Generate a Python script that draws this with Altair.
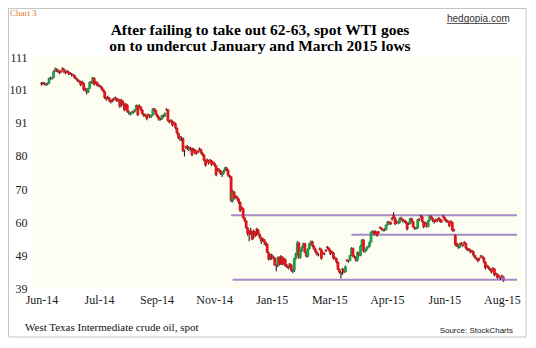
import json
import altair as alt
import pandas as pd

# ---- daily candles, spot WTI, Jun 2 2014 .. Aug 19 2015 (one row per trading day) ----
opens = [
    # Jun-14
    102.9, 103.0, 102.8, 102.7, 102.4, 102.8, 104.5, 104.3, 104.5, 106.6, 107.2, 107.0, 106.4, 106.7, 107.6, 107.2, 106.3, 106.7, 106.4, 106.0, 105.8,
    # Jul-14
    105.5, 105.3, 104.5, 104.0, 103.6, 103.4, 103.3, 102.9, 101.3, 100.9, 100.0, 101.2, 103.3, 103.1, 104.5, 103.4, 103.1, 102.4, 102.1, 101.7, 101.0, 100.3,
    # Aug-14
    98.3, 98.6, 98.3, 97.4, 97.7, 98.0, 98.4, 98.1, 97.9, 97.6, 97.7, 97.3, 96.4, 96.4, 96.1, 94.0, 93.0, 93.4, 94.1, 93.9, 94.6,
    # Sep-14
    95.9, 95.8, 95.5, 94.5, 93.3, 93.1, 92.8, 93.2, 92.8, 92.3, 92.9, 94.9, 94.4, 93.1, 92.4, 91.9, 91.6, 92.9, 92.5, 94.8, 94.6,
    # Oct-14
    91.2, 91.4, 91.0, 90.7, 90.3, 88.9, 87.3, 86.2, 85.8, 85.7, 82.0, 83.1, 83.2, 82.9, 82.7, 82.5, 82.4, 82.1, 81.4, 81.8, 82.5, 82.2, 81.1,
    # Nov-14
    80.5, 78.8, 79.1, 78.7, 79.0, 78.7, 78.3, 77.9, 77.2, 76.2, 76.0, 75.6, 74.8, 74.6, 75.6, 76.5, 75.8, 74.1, 73.7,
    # Dec-14
    66.2, 69.0, 67.8, 67.4, 66.8, 65.8, 64.2, 63.8, 60.9, 60.0, 57.8, 56.6, 57.0, 56.5, 56.9, 56.5, 57.5, 57.1, 55.8, 54.7, 54.5, 54.1,
    # Jan-15
    53.3, 52.7, 50.0, 49.3, 49.2, 48.8, 48.4, 46.1, 46.2, 48.5, 48.9, 48.7, 48.2, 47.9, 46.2, 45.6, 46.6, 46.2, 44.8, 44.5,
    # Feb-15
    48.2, 49.6, 53.1, 48.5, 50.5, 51.7, 52.9, 50.0, 48.8, 51.2, 52.8, 53.5, 52.1, 51.2, 50.3, 49.5, 51.4, 51.0, 50.1,
    # Mar-15
    49.8, 50.9, 51.9, 51.5, 50.8, 50.4, 50.0, 48.6, 48.2, 47.1, 44.8, 43.9, 45.0, 44.7, 44.0, 47.8, 47.7, 47.5, 49.2, 51.4, 48.9, 48.7,
    # Apr-15
    47.6, 50.1, 49.1, 52.1, 54.0, 50.4, 50.8, 51.6, 51.9, 53.3, 56.4, 56.7, 56.7, 56.4, 56.6, 58.0, 57.7, 57.2, 57.4, 57.1, 58.6,
    # May-15
    59.6, 59.5, 60.8, 61.8, 60.9, 59.8, 59.5, 59.3, 60.9, 60.5, 60.1, 59.9, 59.4, 59.4, 59.0, 60.7, 59.7, 58.0, 57.5, 57.7,
    # Jun-15
    60.6, 61.6, 61.3, 59.6, 59.5, 59.1, 58.1, 60.1, 61.4, 60.8, 60.0, 60.4, 60.3, 60.9, 60.5, 60.1, 61.4, 61.0, 60.3, 60.0, 59.6, 59.9,
    # Jul-15
    59.5, 57.3, 55.5, 53.0, 52.3, 51.7, 53.1, 52.7, 53.4, 53.0, 51.4, 51.3, 50.9, 50.7, 50.4, 49.2, 48.5, 48.1, 48.3, 49.1, 48.9, 48.5,
    # Aug-15
    47.1, 46.1, 45.7, 45.2, 44.7, 45.3, 45.0, 43.6, 43.3, 42.9, 42.3, 42.9, 42.6,
]
highs = [
    103.2, 103.3, 103.1, 103.0, 103.0, 104.6, 104.9, 104.7, 106.8, 107.7, 107.5, 107.2, 106.7, 107.0, 107.7, 107.4, 106.6, 107.0, 106.6, 106.3, 106.0,
    105.8, 105.5, 104.8, 104.3, 103.9, 103.6, 103.6, 103.1, 101.5, 101.2, 101.4, 103.4, 103.6, 104.8, 104.7, 103.6, 103.3, 102.6, 102.3, 101.9, 101.2, 100.5,
    98.6, 98.9, 98.5, 97.7, 98.0, 98.3, 98.7, 98.3, 98.1, 97.8, 98.0, 97.5, 96.6, 96.7, 96.3, 94.3, 93.8, 94.1, 94.3, 94.8, 96.2,
    96.1, 96.2, 95.7, 94.7, 93.5, 93.3, 93.0, 93.4, 93.0, 93.1, 95.1, 95.1, 94.6, 93.3, 92.6, 92.1, 93.0, 93.1, 93.7, 95.0, 94.8,
    91.4, 91.6, 91.2, 90.9, 90.5, 89.1, 87.5, 86.4, 86.2, 85.9, 82.1, 83.4, 83.5, 83.1, 83.0, 82.7, 82.7, 82.3, 81.6, 82.0, 82.8, 82.4, 81.3,
    80.7, 79.0, 79.4, 78.9, 79.2, 78.9, 78.5, 78.1, 77.4, 76.4, 76.3, 75.8, 75.0, 75.8, 76.8, 76.7, 76.0, 74.3, 73.9,
    69.6, 69.2, 68.0, 67.7, 67.0, 66.0, 64.5, 64.0, 61.1, 60.2, 58.0, 57.0, 57.8, 56.8, 57.2, 56.8, 57.8, 57.4, 56.0, 55.0, 54.7, 54.3,
    53.6, 52.9, 50.3, 49.6, 49.7, 49.1, 48.6, 46.4, 48.8, 48.8, 49.2, 48.9, 48.5, 48.2, 46.5, 46.0, 46.8, 46.4, 45.0, 48.4,
    50.0, 53.6, 53.4, 51.0, 52.0, 53.1, 53.1, 50.3, 51.4, 53.0, 53.8, 53.7, 52.4, 51.4, 50.5, 49.8, 51.6, 51.2, 50.4,
    50.0, 51.1, 52.1, 51.7, 51.0, 50.6, 50.2, 48.8, 48.4, 47.3, 45.1, 44.2, 45.3, 45.0, 46.0, 48.0, 47.8, 49.4, 51.7, 51.6, 49.2, 48.9,
    50.4, 50.3, 52.4, 54.3, 54.2, 51.0, 51.9, 52.2, 53.5, 56.7, 57.0, 56.9, 56.9, 56.6, 56.8, 58.2, 57.9, 57.5, 57.6, 58.9, 59.9,
    59.8, 59.7, 61.1, 62.6, 61.1, 60.1, 59.8, 61.0, 61.2, 60.7, 60.3, 60.1, 59.6, 59.6, 60.9, 60.9, 59.9, 58.2, 58.1, 60.5,
    60.8, 61.8, 61.5, 59.8, 59.7, 59.3, 60.3, 61.7, 61.6, 61.0, 60.2, 60.6, 60.6, 61.1, 60.7, 60.3, 61.8, 61.2, 60.5, 60.2, 59.8, 60.1,
    59.7, 57.5, 55.7, 53.2, 52.5, 53.0, 53.3, 52.9, 53.6, 53.2, 51.6, 51.5, 51.1, 50.9, 50.6, 49.4, 48.7, 48.3, 48.5, 49.3, 49.1, 48.7,
    47.3, 46.3, 45.9, 45.4, 44.9, 45.5, 45.2, 43.8, 43.5, 43.1, 42.5, 43.1, 42.8,
]
lows = [
    102.1, 102.3, 102.2, 102.0, 102.2, 102.6, 104.0, 103.9, 104.4, 106.3, 106.4, 106.0, 105.6, 106.0, 106.8, 105.9, 105.6, 106.0, 105.4, 105.4, 104.9,
    104.9, 104.2, 103.8, 103.2, 102.9, 101.9, 102.5, 100.4, 100.3, 99.3, 99.8, 101.0, 102.6, 102.8, 102.1, 102.6, 101.8, 101.7, 101.3, 100.6, 99.9, 97.9,
    97.4, 97.8, 97.0, 96.5, 96.9, 97.2, 97.7, 97.0, 97.1, 95.2, 95.4, 96.0, 94.1, 94.4, 93.6, 93.1, 92.8, 93.2, 93.4, 93.7, 94.4,
    92.6, 95.1, 94.1, 92.9, 92.3, 92.4, 91.3, 92.5, 91.9, 92.1, 92.7, 94.0, 92.7, 92.0, 91.1, 91.2, 91.4, 92.1, 92.3, 94.2, 90.8,
    90.3, 90.6, 89.3, 89.9, 88.5, 86.9, 85.4, 84.8, 84.8, 81.4, 80.0, 82.3, 82.0, 81.6, 81.9, 80.1, 81.6, 80.6, 80.6, 81.0, 81.8, 80.7, 80.1,
    78.4, 76.8, 78.3, 77.5, 78.3, 77.0, 77.5, 76.8, 73.8, 75.4, 74.9, 74.2, 73.6, 74.4, 75.4, 75.4, 73.7, 73.3, 65.7,
    65.7, 66.5, 66.9, 66.3, 65.2, 62.7, 63.3, 60.6, 59.6, 57.4, 55.3, 53.6, 55.6, 53.9, 54.3, 54.9, 55.2, 55.5, 54.4, 52.7, 53.3, 52.4,
    52.0, 49.8, 47.6, 47.7, 47.8, 47.9, 45.9, 44.2, 45.5, 45.9, 46.2, 46.1, 46.3, 45.6, 45.2, 44.8, 45.2, 44.1, 43.6, 44.0,
    47.8, 49.2, 48.1, 48.2, 50.2, 51.4, 49.8, 48.5, 48.6, 51.0, 52.5, 51.8, 50.9, 49.9, 49.1, 48.8, 50.6, 47.8, 49.3,
    49.2, 50.2, 51.1, 50.4, 49.3, 49.6, 47.9, 47.8, 46.7, 44.5, 43.5, 42.0, 43.1, 43.6, 43.8, 47.1, 46.9, 47.3, 49.0, 48.5, 48.2, 47.2,
    47.3, 48.8, 48.9, 51.8, 50.1, 50.0, 50.5, 51.3, 51.7, 53.1, 56.1, 55.4, 55.9, 55.0, 55.9, 57.4, 56.9, 56.6, 56.7, 56.9, 58.4,
    58.8, 58.6, 60.0, 60.6, 58.6, 59.0, 58.9, 59.1, 60.1, 59.5, 59.3, 59.0, 56.9, 58.6, 58.8, 59.4, 57.7, 57.1, 57.2, 57.4,
    59.8, 60.9, 59.3, 57.6, 58.7, 57.8, 57.9, 59.9, 60.4, 59.6, 59.1, 59.6, 59.5, 60.1, 59.3, 59.3, 60.7, 59.9, 59.3, 59.3, 57.9, 59.1,
    56.6, 56.5, 52.0, 51.8, 51.2, 51.4, 52.3, 51.8, 52.6, 51.0, 50.5, 50.5, 49.8, 50.0, 48.8, 48.1, 47.7, 47.0, 47.6, 48.4, 48.1, 46.7,
    44.8, 45.3, 44.8, 44.3, 43.5, 44.6, 42.7, 42.9, 41.9, 42.1, 41.5, 42.2, 40.9,
]
closes = [
    102.5, 102.7, 102.6, 102.5, 102.7, 104.4, 104.4, 104.4, 106.5, 106.9, 106.9, 106.4, 106.0, 106.4, 107.3, 106.2, 106.0, 106.5, 105.8, 105.7, 105.4,
    105.3, 104.5, 104.1, 103.5, 103.4, 102.3, 102.9, 100.8, 100.9, 100.0, 101.2, 103.2, 103.1, 104.6, 102.4, 103.1, 102.1, 102.1, 101.7, 101.0, 100.3, 98.2,
    97.9, 98.3, 97.4, 96.9, 97.3, 97.7, 98.1, 97.4, 97.6, 95.6, 97.4, 96.4, 94.5, 96.1, 94.0, 93.7, 93.4, 93.9, 93.9, 94.6, 96.0,
    92.9, 95.5, 94.5, 93.3, 92.7, 92.8, 91.7, 92.8, 92.3, 92.9, 94.9, 94.4, 93.1, 92.4, 91.5, 91.6, 92.8, 92.5, 93.5, 94.6, 91.2,
    90.7, 91.0, 89.7, 90.3, 88.9, 87.3, 85.8, 85.8, 85.7, 81.8, 81.8, 82.7, 82.8, 82.7, 82.5, 80.5, 82.1, 81.0, 81.0, 81.4, 82.2, 81.1, 80.5,
    78.8, 77.2, 78.7, 77.9, 78.7, 77.4, 77.9, 77.2, 74.2, 75.8, 75.6, 74.6, 74.6, 75.6, 76.5, 75.8, 74.1, 73.7, 66.2,
    69.0, 66.9, 67.4, 66.8, 65.8, 63.1, 63.8, 60.9, 60.0, 57.8, 55.9, 55.9, 56.5, 54.1, 56.5, 55.3, 57.1, 55.8, 54.7, 53.6, 54.1, 53.3,
    52.7, 50.0, 47.9, 48.7, 48.8, 48.4, 46.1, 45.9, 48.5, 46.3, 48.7, 46.4, 47.9, 45.9, 45.6, 45.2, 46.2, 44.5, 44.5, 48.2,
    49.6, 53.1, 48.5, 50.5, 51.7, 52.9, 50.0, 48.8, 51.2, 52.8, 53.5, 52.1, 51.2, 50.3, 49.5, 49.3, 51.0, 48.2, 49.8,
    49.6, 50.5, 51.5, 50.8, 49.6, 50.0, 48.3, 48.2, 47.1, 44.8, 43.9, 43.5, 44.7, 44.0, 45.7, 47.5, 47.5, 49.2, 51.4, 48.9, 48.7, 47.6,
    50.1, 49.1, 52.1, 54.0, 50.4, 50.8, 51.6, 51.9, 53.3, 56.4, 56.7, 55.7, 56.4, 55.3, 56.2, 57.7, 57.2, 57.0, 57.1, 58.6, 59.6,
    59.2, 58.9, 60.4, 60.9, 58.9, 59.4, 59.3, 60.8, 60.5, 59.9, 59.7, 59.4, 57.3, 59.0, 60.7, 59.7, 58.0, 57.5, 57.7, 60.3,
    60.2, 61.3, 59.6, 58.0, 59.1, 58.1, 60.1, 61.4, 60.8, 60.0, 59.5, 60.0, 59.9, 60.5, 59.6, 59.7, 61.0, 60.3, 59.7, 59.6, 58.3, 59.5,
    57.0, 56.9, 52.5, 52.3, 51.7, 52.8, 52.7, 52.2, 53.0, 51.4, 50.9, 50.9, 50.2, 50.4, 49.2, 48.5, 48.1, 47.4, 48.0, 48.8, 48.5, 47.1,
    45.2, 45.7, 45.2, 44.7, 43.9, 45.0, 43.1, 43.3, 42.2, 42.5, 41.9, 42.6, 41.2,
]

# axis tick labels (evenly spaced in the original)
y_tick_values = [39, 49.2857, 59.5714, 69.8571, 80.1429, 90.4286, 100.7143, 111]
y_tick_labels = ["39", "49", "60", "70", "80", "91", "101", "111"]
x_tick_values = [0, 38.25, 76.5, 114.75, 153, 191.25, 229.5, 267.75, 306]
x_tick_labels = ["Jun-14", "Jul-14", "Sep-14", "Nov-14", "Jan-15", "Mar-15", "Apr-15", "Jun-15", "Aug-15"]

# horizontal support / resistance lines
level_values = [61.7, 55.6, 41.6]
level_start = [126, 206, 127]
level_end = [316, 316, 316]

n = len(closes)
df = pd.DataFrame({"i": list(range(n)), "o": opens, "h": highs, "l": lows, "c": closes})
kind = ["up" if c > o else "down" for o, c in zip(opens, closes)]
kind[-1] = "last"
df["kind"] = kind
levels = pd.DataFrame({"v": level_values, "s": level_start, "e": level_end})

SERIF = "Liberation Serif"
SANS = "Liberation Sans"

x_expr = "[" + ",".join("'%s'" % s for s in x_tick_labels) + "][indexof(" + json.dumps(x_tick_values) + ", datum.value)]"
y_expr = "[" + ",".join("'%s'" % s for s in y_tick_labels) + "][indexof(" + json.dumps(y_tick_values) + ", datum.value)]"

xscale = alt.Scale(domain=[-3, 316], nice=False, zero=False)
yscale = alt.Scale(domain=[39, 111], nice=False, zero=False)
xaxis = alt.Axis(values=x_tick_values, labelExpr=x_expr, title=None, domain=False, ticks=False,
                 grid=False, labelFont=SERIF, labelFontSize=12, labelColor="#1a1a1a",
                 labelPadding=6, labelFlush=False, labelOverlap=False)
yaxis = alt.Axis(values=y_tick_values, labelExpr=y_expr, title=None, domain=False, ticks=False,
                 grid=False, labelFont=SERIF, labelFontSize=12, labelColor="#1a1a1a",
                 labelPadding=5, labelFlush=False, labelOverlap=False)

base = alt.Chart(df)
wicks = base.mark_rule(color="#1a1a1a", strokeWidth=1.1).encode(
    x=alt.X("i:Q", scale=xscale, axis=xaxis),
    y=alt.Y("l:Q", scale=yscale, axis=yaxis),
    y2="h:Q",
)
bodies = base.mark_bar(size=2.8).encode(
    x=alt.X("i:Q", scale=xscale, axis=xaxis),
    y=alt.Y("o:Q", scale=yscale, axis=yaxis),
    y2="c:Q",
    color=alt.Color("kind:N", legend=None,
                    scale=alt.Scale(domain=["up", "down", "last"],
                                    range=["#1e9e4a", "#e0161d", "#b04fb4"])),
)
lines = alt.Chart(levels).mark_rule(color="#a58ac6", strokeWidth=2).encode(
    x=alt.X("s:Q", scale=xscale, axis=xaxis),
    x2="e:Q",
    y=alt.Y("v:Q", scale=yscale, axis=yaxis),
)


def label(text, x, y, **kw):
    return alt.Chart(pd.DataFrame({"t": [text]})).mark_text(**kw).encode(
        text="t:N", x=alt.value(x), y=alt.value(y))


title1 = label("After failing to take out 62-63, spot WTI goes", 228, -22, font=SERIF, fontSize=15.5,
               fontWeight="bold", align="center", baseline="alphabetic", color="#000000")
title2 = label("on to undercut January and March 2015 lows", 228, -6, font=SERIF, fontSize=15.5,
               fontWeight="bold", align="center", baseline="alphabetic", color="#000000")
chart_no = label("Chart 3", -22, -41.5, font=SERIF, fontSize=9, align="left",
                 baseline="alphabetic", color="#e07a35")
site = label("hedgopia.com", 415, -35.5, font=SANS, fontSize=10, align="left",
             baseline="alphabetic", color="#333333")
site_line = alt.Chart(pd.DataFrame({"a": [0]})).mark_rule(color="#333333", strokeWidth=0.8).encode(
    x=alt.value(415), x2=alt.value(475), y=alt.value(-33.5))
footer = label("West Texas Intermediate crude oil, spot", -7, 274, font=SERIF, fontSize=11,
               align="left", baseline="alphabetic", color="#111111")
source = label("Source: StockCharts", 481, 276, font=SANS, fontSize=8, align="right",
               baseline="alphabetic", color="#222222")
frame = alt.Chart(pd.DataFrame({"a": [0]})).mark_rect(fillOpacity=0, stroke="#c4c4c4", strokeWidth=1).encode(
    x=alt.value(-23.5), x2=alt.value(494), y=alt.value(-48.5), y2=alt.value(280))

chart = alt.layer(
    frame, lines, wicks, bodies, title1, title2, chart_no, site, site_line, footer, source
).properties(
    width=490, height=231,
    padding={"left": 24, "top": 49, "right": 6, "bottom": 52},
    autosize="none",
    background="#ffffff",
).configure_view(
    fill="#fdfdf1", stroke=None,
)

chart.save("out.html", embed_options={"renderer": "svg", "actions": False})
